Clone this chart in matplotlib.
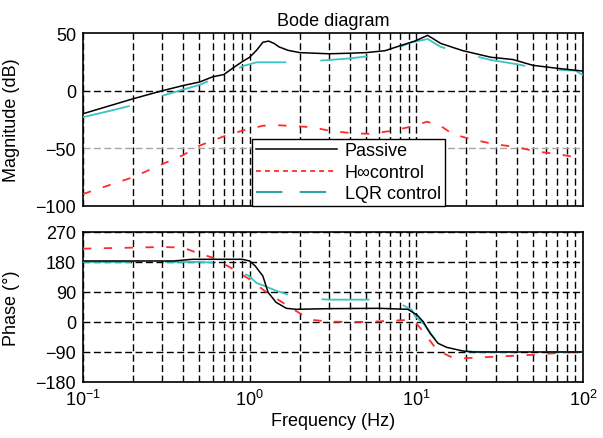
import numpy as np
import matplotlib
matplotlib.use('Agg')
import matplotlib.pyplot as plt
from matplotlib.lines import Line2D

plt.rcParams['font.family'] = ['Liberation Sans', 'DejaVu Sans']
plt.rcParams['mathtext.fontset'] = 'custom'
plt.rcParams['mathtext.rm'] = 'Liberation Sans'
plt.rcParams['mathtext.it'] = 'Liberation Sans:italic'
plt.rcParams['font.size'] = 13
plt.rcParams['lines.scale_dashes'] = False

# Magnitude (dB)
f_pas_mag = [0.1, 0.2, 0.3, 0.4, 0.5, 0.6, 0.7, 0.8, 0.9, 1.0, 1.1, 1.2, 1.3, 1.4, 1.5, 1.7,
             2.0, 3.0, 4.0, 5.0, 6.5, 8.0, 9.8, 11.7, 14, 16.5, 19, 28, 38, 50, 70, 100]
mag_pas = [-20, -7, 0, 4.5, 7.5, 12, 14, 20, 25, 29, 35, 42, 43, 41, 38, 35,
           33, 32, 32.5, 33, 34.7, 39, 43, 48, 41, 37.6, 34.7, 29, 27, 22, 19.4, 17]

f_hinf_mag = [0.1, 0.2, 0.3, 0.4, 0.5, 0.7, 0.9, 1.2, 1.5, 2.0, 2.4, 3.0, 4.0, 5.3, 7.2, 9.5,
              11.6, 13.8, 16.5, 21, 29, 40, 53, 70, 90, 100]
mag_hinf = [-89.6, -75, -63.6, -55.8, -47.7, -39.6, -34.7, -30.4, -30, -31, -31.8, -34.7, -36.7,
            -37.5, -34.7, -30.9, -26.9, -30, -37.5, -41.9, -46.2, -49, -52.8, -54.9, -57.7, -58]

f_lqr_mag = [0.1, 0.15, 0.2, 0.31, 0.4, 0.5, 0.6, 0.93, 1.1, 1.8, 3.0, 4.0, 5.1, 7, 9.4, 11.7,
             14, 17.7, 28, 40, 56, 90, 100]
mag_lqr = [-23, -17, -12.5, -3.7, 1, 5, 10, 21.7, 24.6, 24.6, 26.6, 28, 29.8, 35, 42, 44.8,
           38, 33.8, 26.6, 23, 18.8, 17.4, 13.6]

# Phase (deg)
f_pas_ph = [0.1, 0.35, 0.45, 0.9, 1.0, 1.08, 1.2, 1.29, 1.44, 1.66, 1.9, 3, 6, 8.9, 10.1, 11,
            12.1, 13.5, 15.2, 19, 22, 100]
ph_pas = [183, 183, 188, 188, 183, 168, 138, 89, 59, 41, 38, 40, 41, 38, 21, 1,
          -34, -64, -76, -87, -90, -90]

f_hinf_ph = [0.1, 0.2, 0.3, 0.4, 0.48, 0.6, 0.8, 1.0, 1.27, 1.58, 2.0, 2.4, 3.0, 5, 8.8, 9.8,
             11, 13.3, 16, 19, 30, 48, 76, 100]
ph_hinf = [220, 223, 225, 223, 208, 193, 158, 128, 88, 58, 26, 6, 1, 0, 6, 1,
           -29, -84, -104, -109, -104, -99, -92, -90]

f_lqr_ph = [0.1, 0.4, 0.5, 0.6, 0.65, 0.8, 0.98, 1.1, 1.2, 1.44, 1.8, 2.3, 3.0, 6.0, 8, 9.4,
            9.8, 11, 13.3, 15, 19, 25, 100]
ph_lqr = [180, 180, 180, 178, 170, 155, 140, 117, 110, 94, 78, 70, 67, 67, 55, 36,
          18, -4, -59, -69, -88, -90, -90]

c_pas = 'black'
c_hinf = '#ff2b2b'
c_lqr = '#3cc3c3'
ls_hinf = (0, (6, 9))
ls_lqr = (0, (34.6, 24.5))
grid_ls = (0, (5, 2.5))

fig = plt.figure(figsize=(6.03, 4.39), dpi=100)
ax1 = fig.add_axes([0.1376, 0.5285, 0.8292, 0.394])
ax2 = fig.add_axes([0.1376, 0.1276, 0.8292, 0.3417])

# Magnitude
ax1.semilogx(f_lqr_mag, mag_lqr, color=c_lqr, lw=1.3, linestyle=ls_lqr, zorder=3)
ax1.semilogx(f_hinf_mag, mag_hinf, color=c_hinf, lw=1.3, linestyle=ls_hinf, zorder=4)
ax1.semilogx(f_pas_mag, mag_pas, color=c_pas, lw=1.1, zorder=5)
ax1.set_xlim(0.1, 100)
ax1.set_ylim(-100, 50)
ax1.set_yticks([50, 0, -50, -100])
ax1.set_title("Bode diagram", fontsize=13, pad=6)
ax1.set_ylabel("Magnitude (dB)")
ax1.tick_params(labelbottom=False)
# horizontal grid: 0 dB black, -50 dB grey as in the original
ax1.axhline(0, color='black', linestyle=grid_ls, lw=1.0, zorder=1)
ax1.axhline(-50, color='#a5a5a5', linestyle=grid_ls, lw=1.0, zorder=1)

# Phase
ax2.semilogx(f_lqr_ph, ph_lqr, color=c_lqr, lw=1.3, linestyle=ls_lqr, zorder=3)
ax2.semilogx(f_hinf_ph, ph_hinf, color=c_hinf, lw=1.3, linestyle=ls_hinf, zorder=4)
ax2.semilogx(f_pas_ph, ph_pas, color=c_pas, lw=1.1, zorder=5)
ax2.set_xlim(0.1, 100)
ax2.set_ylim(-180, 270)
ax2.set_yticks([270, 180, 90, 0, -90, -180])
ax2.set_ylabel("Phase (°)")
ax2.set_xlabel("Frequency (Hz)")
ax2.xaxis.set_label_coords(0.5, -0.2)
ax2.grid(True, which='major', axis='y', color='black', linestyle=grid_ls, lw=1.0)

for ax in [ax1, ax2]:
    ax.set_axisbelow(True)
    ax.grid(True, which='both', axis='x', color='black', linestyle=grid_ls, lw=1.0)
    ax.tick_params(which='both', direction='in', length=0, pad=5)
    ax.yaxis.set_label_coords(-0.125, 0.5)
    for s in ax.spines.values():
        s.set_linewidth(1.2)

handles = [Line2D([], [], color=c_pas, lw=1.1),
           Line2D([], [], color=c_hinf, lw=1.3, linestyle=(0, (3.5, 3))),
           Line2D([], [], color='#2fa5a5', lw=1.5, linestyle=(0, (19, 12.5)))]
leg = ax1.legend(handles, ["Passive", "H\u221econtrol", "LQR control"],
                 loc='lower left', bbox_to_anchor=(0.338, 0.0), borderaxespad=0,
                 fancybox=False, framealpha=1, edgecolor='black', fontsize=13,
                 handlelength=4.5, handletextpad=0.45, labelspacing=0.25, borderpad=0.2)
leg.get_frame().set_linewidth(1.0)
leg.set_zorder(10)

plt.savefig('out.png', dpi=100)
plt.close()
